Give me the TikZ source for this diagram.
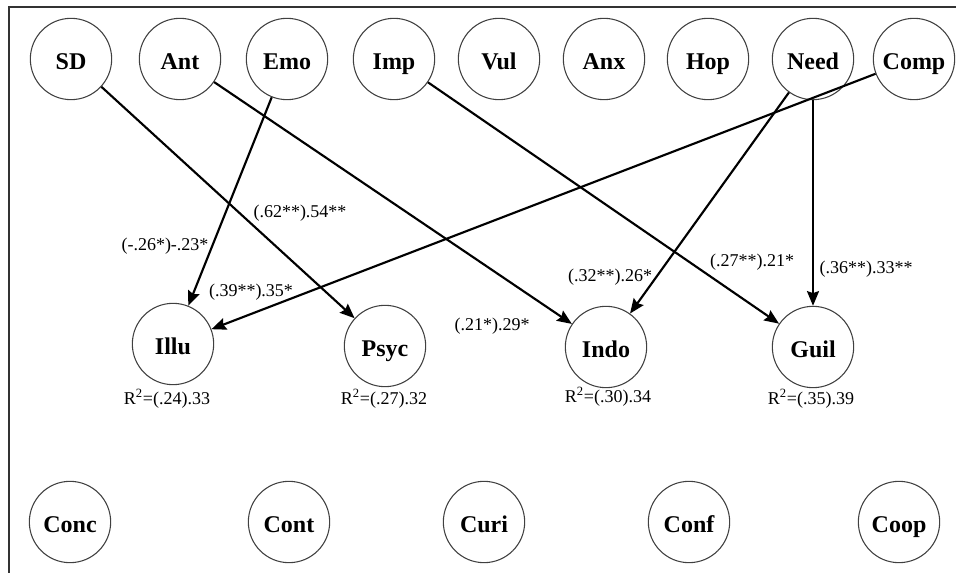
\documentclass[tikz,border=0pt]{standalone}
\usepackage{fontspec}
\setmainfont{Liberation Serif}
\usepackage{tikz}
\usetikzlibrary{arrows.meta}

\tikzset{
    var/.style={circle, draw=black!75, line width=0.8pt, minimum size=61pt, inner sep=0pt,
                text height=16pt, text depth=0pt,
                font=\fontsize{18}{20}\selectfont\bfseries},
    effect/.style={line width=1.6pt, -{Stealth[length=11pt, width=9pt, inset=1.5pt]}},
    coef/.style={inner sep=1pt, font=\fontsize{13.5}{15}\selectfont},
}

\begin{document}
\begin{tikzpicture}[x=0.75pt, y=-0.75pt]
                \useasboundingbox (0, 0) rectangle (956, 573);
                % frame
                \draw[black!80, line width=1.4pt] (9, 573) -- (9, 7) -- (956, 7);
                % predictors
                \foreach \n/\x in {SD/71, Ant/180, Emo/287, Imp/394, Vul/499, Anx/604, Hop/708, Need/813, Comp/914}
                    \node[var] (\n) at (\x, 59) {\n};
                % outcomes
                \node[var] (Illu) at (173, 344) {Illu};
                \node[var] (Psyc) at (385, 346) {Psyc};
                \node[var] (Indo) at (606, 347) {Indo};
                \node[var] (Guil) at (813, 347) {Guil};
                \node[coef] (rIllu) at (167, 399) {R\textsuperscript{2}=(.24).33};
                \node[coef] (rPsyc) at (384, 399) {R\textsuperscript{2}=(.27).32};
                \node[coef] (rIndo) at (608, 397) {R\textsuperscript{2}=(.30).34};
                \node[coef] (rGuil) at (811, 399) {R\textsuperscript{2}=(.35).39};
                % bottom row
                \foreach \n/\x in {Conc/70, Cont/289, Curi/484, Conf/689, Coop/899}
                    \node[var] (\n) at (\x, 522) {\n};
                % paths
                \draw[effect] (SD) -- (Psyc);
                \draw[effect] (Ant) -- (Indo);
                \draw[effect] (Emo) -- (Illu);
                \draw[effect] (Imp) -- (Guil);
                \draw[effect] (Need) -- (Indo);
                \draw[effect] (Need) -- (Guil);
                \draw[effect] (Comp) -- (Illu);
                \node[coef] (cSD) at (300, 213) {(.62**).54**};
                \node[coef] (cEmo) at (165, 246) {(-.26*)-.23*};
                \node[coef] (cComp) at (251, 292) {(.39**).35*};
                \node[coef] (cAnt) at (492, 326) {(.21*).29*};
                \node[coef] (cNeedI) at (610, 277) {(.32**).26*};
                \node[coef] (cImp) at (752, 262) {(.27**).21*};
                \node[coef] (cNeedG) at (866, 269) {(.36**).33**};
            \end{tikzpicture}
\end{document}
